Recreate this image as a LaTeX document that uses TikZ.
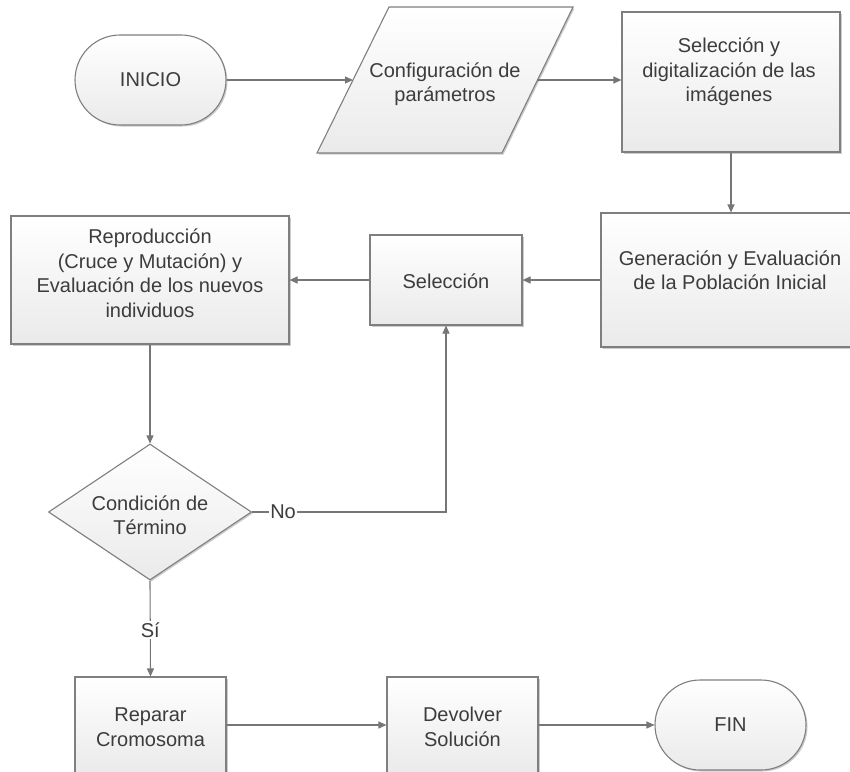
\documentclass[tikz,border=0pt]{standalone}
\usepackage{fontspec}
\setmainfont{Liberation Sans}
\usetikzlibrary{shapes.geometric,shapes.misc,arrows.meta,shadows}
\definecolor{edgegray}{HTML}{7F7F7F}
\definecolor{linegray}{HTML}{767676}
\definecolor{txtgray}{HTML}{3C3C3C}
\definecolor{fillbot}{HTML}{EAEAEA}
\begin{document}
\begin{tikzpicture}[x=1pt,y=-1pt,
  shadebox/.style={draw=edgegray, line width=1.1pt, top color=white, bottom color=fillbot,
    drop shadow={shadow xshift=1.5pt,shadow yshift=-1.5pt,opacity=0.2,fill=black}},
  procbox/.style={shadebox, rectangle, inner sep=0pt},
  termbox/.style={shadebox, rounded rectangle, inner sep=0pt, minimum width=151pt, minimum height=90pt},
  decbox/.style={shadebox, diamond, inner sep=0pt},
  txt/.style={font=\fontsize{20}{24.5}\selectfont, text=txtgray, align=center, inner sep=0pt},
  conn/.style={draw=linegray, line width=1.1pt, -{Triangle[length=8pt,width=7pt]}},
  lbl/.style={font=\fontsize{20}{24.5}\selectfont, text=txtgray, fill=white, inner sep=1.5pt}
]
\useasboundingbox (0,0) rectangle (850,771);
\fill[white] (0,0) rectangle (850,771);

% terminals
\node[termbox, txt] (inicio) at (150.5,80) {INICIO};
\node[termbox, txt] (fin) at (730.5,725) {FIN};

% parallelogram
\path[shadebox] (389,7) -- (573,7) -- (502,153) -- (317,153) -- cycle;
\node[txt] (param) at (445,84) {Configuración de\\parámetros};
\coordinate (pin) at (353,80);
\coordinate (pout) at (537,80);

% process boxes
\node[procbox, minimum width=218pt, minimum height=140pt] (sdig) at (731,82) {};
\node[txt] (sdigT) at (729,72) {Selección y\\digitalización de las\\imágenes};

\node[procbox, minimum width=258pt, minimum height=134pt] (gen) at (730,280) {};
\node[txt] (genT) at (730,270) {Generación y Evaluación\\de la Población Inicial};

\node[procbox, minimum width=152pt, minimum height=90pt] (sel) at (446,280) {};
\node[txt] (selT) at (446,281) {Selección};

\node[procbox, minimum width=278pt, minimum height=128pt] (rep) at (150,280) {};
\node[txt] (repT) at (150,273) {Reproducción\\(Cruce y Mutación) y\\Evaluación de los nuevos\\individuos};

\node[decbox, minimum width=203pt, minimum height=136pt] (cond) at (150,512) {};
\node[txt] (condT) at (150,515) {Condición de\\Término};

\node[procbox, minimum width=151pt, minimum height=96pt] (repair) at (150.5,725) {};
\node[txt] (repairT) at (150.5,727) {Reparar\\Cromosoma};

\node[procbox, minimum width=151pt, minimum height=96pt] (dev) at (462.5,725) {};
\node[txt] (devT) at (462.5,727) {Devolver\\Solución};

% connectors
\draw[conn] (inicio.east) -- (pin);
\draw[conn] (pout) -- (pout -| sdig.west);
\draw[conn] (sdig.south) -- (sdig.south |- gen.north);
\draw[conn] (gen.west) -- (sel.east);
\draw[conn] (sel.west) -- (rep.east);
\draw[conn] (rep.south) -- (cond.north);
\draw[conn] (cond.east) -- node[lbl, pos=0.16] (no) {No} (cond.east -| sel.south) -- (sel.south);
\draw[conn] (cond.south) -- node[lbl, pos=0.52] (si) {Sí} (repair.north);
\draw[conn] (repair.east) -- (dev.west);
\draw[conn] (dev.east) -- (fin.west);
\end{tikzpicture}
\end{document}
